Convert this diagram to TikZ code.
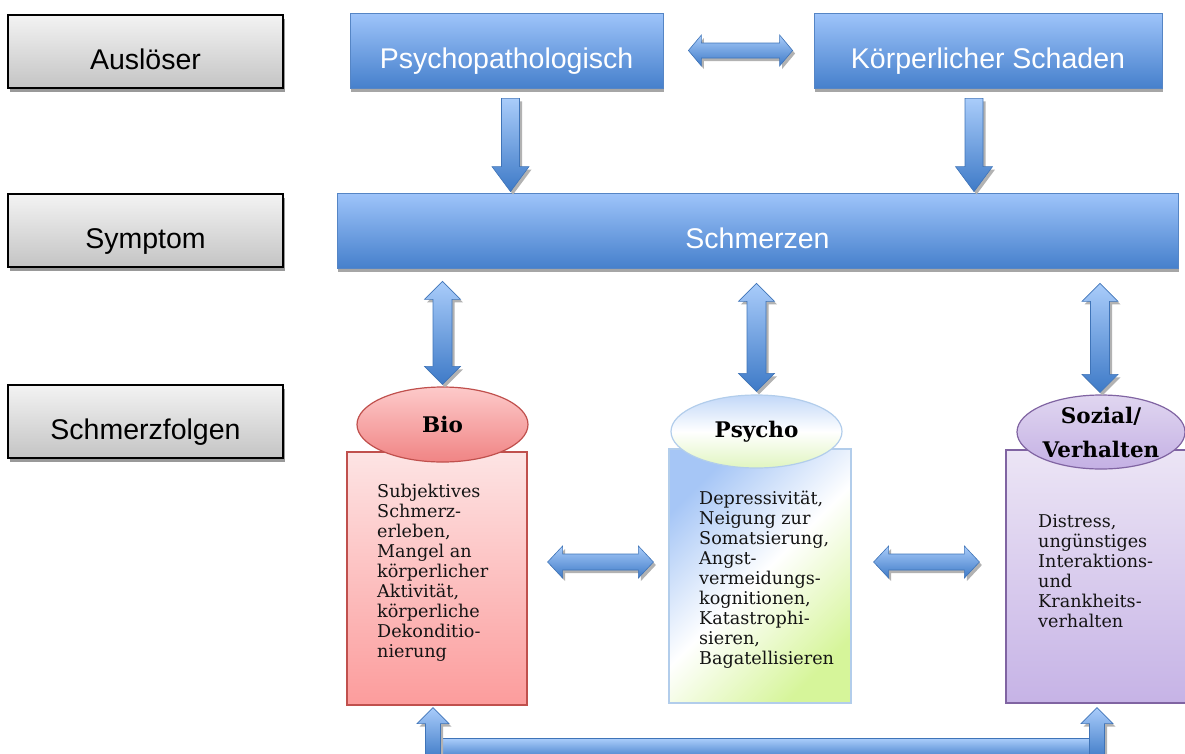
\documentclass[tikz,border=0pt]{standalone}
\usepackage{fontspec}
\setmainfont{Liberation Sans}
\newfontfamily\boxserif{DejaVu Serif}
\usetikzlibrary{calc,shapes.geometric,shadows}

\definecolor{greytop}{HTML}{F3F3F3}
\definecolor{greybot}{HTML}{C4C4C4}
\definecolor{bluetop}{HTML}{9EC4FA}
\definecolor{bluebot}{HTML}{4680CC}
\definecolor{blueedge}{HTML}{5585C5}
\definecolor{arrtop}{HTML}{A9CCFA}
\definecolor{arrbot}{HTML}{3E7AC7}
\definecolor{arredge}{HTML}{3F74B8}
\definecolor{biotop}{HTML}{FDE4E4}
\definecolor{biobot}{HTML}{FC9C9C}
\definecolor{bioedge}{HTML}{C0504D}
\definecolor{bioelltop}{HTML}{FDCACA}
\definecolor{bioellbot}{HTML}{F08484}
\definecolor{psyblue}{HTML}{A6C6F6}
\definecolor{psygreen}{HTML}{D6F59A}
\definecolor{psyedge}{HTML}{B2CDEB}
\definecolor{psyelltop}{HTML}{C2D8F8}
\definecolor{psyellbot}{HTML}{E0F5C0}
\definecolor{soztop}{HTML}{ECE5F5}
\definecolor{sozbot}{HTML}{C6B3E6}
\definecolor{sozelltop}{HTML}{E0D6F0}
\definecolor{sozellbot}{HTML}{C4B0E4}
\definecolor{sozedge}{HTML}{8064A2}
\definecolor{textdark}{HTML}{141414}

\tikzset{
  labelbox/.style={rectangle, minimum height=75pt, inner sep=0pt,
    text height=35pt, text depth=0pt, font=\fontsize{28.5}{32}\selectfont},
  greybox/.style={labelbox, minimum width=275pt, minimum height=73pt,
    draw=black, line width=1.5pt, top color=greytop, bottom color=greybot,
    text=black,
    drop shadow={shadow xshift=1.5pt, shadow yshift=-4pt, fill=black!40, opacity=1}},
  bluebox/.style={labelbox, draw=blueedge, line width=0.8pt,
    top color=bluetop, bottom color=bluebot, text=white,
    drop shadow={shadow xshift=1pt, shadow yshift=-4pt, fill=black!35, opacity=1}},
  catbox/.style={rectangle, inner sep=0pt, line width=1.2pt},
  catoval/.style={ellipse, inner sep=0pt, align=center, line width=1.2pt,
    font=\boxserif\bfseries\fontsize{21.5}{34}\selectfont, text=black},
  bodytext/.style={anchor=north west, inner sep=0pt, align=left,
    font=\boxserif\fontsize{17.6}{20}\selectfont, text=textdark},
  arrbody/.style={top color=arrtop, bottom color=arrbot, draw=arredge,
    line width=0.6pt, line join=miter},
  arrshadow/.style={fill=black!30, transform canvas={shift={(2.5pt,-3pt)}}},
}

% block arrows: shadow first, then the shaded body
\newcommand\blockpath[1]{\path[arrshadow] #1; \path[arrbody] #1;}
% horizontal double arrow: left tip, right tip, shaft half, head half, head length
\newcommand\blkH[5]{\blockpath{(#1) -- ($(#1)+(#5,-#4)$) -- ($(#1)+(#5,-#3)$)
  -- ($(#2)+(-#5,-#3)$) -- ($(#2)+(-#5,-#4)$) -- (#2) -- ($(#2)+(-#5,#4)$)
  -- ($(#2)+(-#5,#3)$) -- ($(#1)+(#5,#3)$) -- ($(#1)+(#5,#4)$) -- cycle}}
% vertical double arrow: top tip, bottom tip, shaft half, head half, head length
\newcommand\blkV[5]{\blockpath{(#1) -- ($(#1)+(#4,#5)$) -- ($(#1)+(#3,#5)$)
  -- ($(#2)+(#3,-#5)$) -- ($(#2)+(#4,-#5)$) -- (#2) -- ($(#2)+(-#4,-#5)$)
  -- ($(#2)+(-#3,-#5)$) -- ($(#1)+(-#3,#5)$) -- ($(#1)+(-#4,#5)$) -- cycle}}
% downward arrow: shaft top, tip, shaft half, head half, head length
\newcommand\blkDown[5]{\blockpath{($(#1)+(-#3,0)$) -- ($(#1)+(#3,0)$)
  -- ($(#2)+(#3,-#5)$) -- ($(#2)+(#4,-#5)$) -- (#2) -- ($(#2)+(-#4,-#5)$)
  -- ($(#2)+(-#3,-#5)$) -- cycle}}
% upward arrow: tip, shaft bottom, shaft half, head half, head length
\newcommand\blkUp[5]{\blockpath{(#1) -- ($(#1)+(#4,#5)$) -- ($(#1)+(#3,#5)$)
  -- ($(#2)+(#3,0)$) -- ($(#2)+(-#3,0)$) -- ($(#1)+(-#3,#5)$)
  -- ($(#1)+(-#4,#5)$) -- cycle}}

\begin{document}
\begin{tikzpicture}[x=1pt,y=-1pt]
\useasboundingbox (0,0) rectangle (1185,753);
\clip (0,0) rectangle (1185,753);

% level labels
\node[greybox] (ausl)   at (145.5,51.5)  {Auslöser};
\node[greybox] (sympt)  at (145.5,230.5) {Symptom};
\node[greybox] (folgen) at (145.5,421.5) {Schmerzfolgen};

% triggers and symptom
\node[bluebox, minimum width=313pt] (psy)  at (506.5,50.5)  {Psychopathologisch};
\node[bluebox, minimum width=348pt] (kor)  at (988,50.5)    {Körperlicher Schaden};
\node[bluebox, minimum width=841pt] (schm) at (757.5,230.5) {Schmerzen};

% consequence columns
\node[catbox, draw=bioedge, top color=biotop, bottom color=biobot,
  minimum width=180pt, minimum height=253pt] (biorect) at (437,578.5) {};
\node[catbox, draw=psyedge, left color=psyblue, right color=psygreen,
  middle color=white, shading angle=45,
  minimum width=182pt, minimum height=254pt] (psyrect) at (760,576) {};
\node[catbox, draw=sozedge, top color=soztop, bottom color=sozbot,
  minimum width=182pt, minimum height=253pt] (sozrect) at (1097,576.5) {};

\node[catoval, draw=bioedge, top color=bioelltop, bottom color=bioellbot,
  minimum width=171pt, minimum height=75pt] (bioell) at (442.5,424.5) {Bio};
\node[catoval, draw=psyedge, top color=psyelltop, bottom color=psyellbot,
  middle color=white, minimum width=171pt, minimum height=73pt] (psyell) at (756.5,431.5) {Psycho};
\node[catoval, draw=sozedge, top color=sozelltop, bottom color=sozellbot,
  minimum width=168pt, minimum height=74pt] (sozell) at (1101,432) {Sozial/\\Verhalten};

\node[bodytext] (biotext) at (377,483) {\rule{0pt}{14pt}Subjektives\\Schmerz-\\erleben,\\Mangel an\\körperlicher\\Aktivität,\\körperliche\\Dekonditio-\\nierung};
\node[bodytext] (psytext) at (699,490) {\rule{0pt}{14pt}Depressivität,\\Neigung zur\\Somatsierung,\\Angst-\\vermeidungs-\\kognitionen,\\Katastrophi-\\sieren,\\Bagatellisieren};
\node[bodytext] (soztext) at (1038,513) {\rule{0pt}{14pt}Distress,\\ungünstiges\\Interaktions-\\und\\Krankheits-\\verhalten};

% arrow end points
\coordinate (h1l) at ($(psy.east)+(25,0)$);
\coordinate (h1r) at ($(kor.west)+(-21,0)$);
\coordinate (d1t) at ($(psy.south)+(4,10)$);
\coordinate (d1b) at ($(d1t |- schm.north)+(0,-1)$);
\coordinate (d2t) at ($(kor.south)+(-14,10)$);
\coordinate (d2b) at ($(d2t |- schm.north)+(0,-1)$);
\coordinate (v1t) at ($(bioell.north |- schm.south)+(0,13)$);
\coordinate (v1b) at ($(bioell.north)+(0,-2)$);
\coordinate (v2t) at ($(psyell.north |- schm.south)+(0,15)$);
\coordinate (v2b) at ($(psyell.north)+(0,-3)$);
\coordinate (v3t) at ($(sozell.north |- schm.south)+(-1,15)$);
\coordinate (v3b) at ($(sozell.north)+(-1,-2)$);
\coordinate (m1l) at ($(biorect.east)+(20,-16.5)$);
\coordinate (m1r) at ($(psyrect.west |- m1l)+(-15,0)$);
\coordinate (m2l) at ($(psyrect.east |- m1l)+(22,0)$);
\coordinate (m2r) at ($(sozrect.west |- m1l)+(-26,0)$);
\coordinate (u1) at ($(biorect.south)+(-4,2)$);
\coordinate (u1b) at ($(u1)+(0,52)$);
\coordinate (u2) at ($(sozrect.south)+(0,4)$);
\coordinate (u2b) at ($(u2)+(0,52)$);

% arrows
\blkH{h1l}{h1r}{7.5}{15.5}{13}
\blkDown{d1t}{d1b}{9}{18.5}{25}
\blkDown{d2t}{d2b}{9}{18.5}{25}
\blkV{v1t}{v1b}{9.5}{18}{18}
\blkV{v2t}{v2b}{9.5}{18}{18}
\blkV{v3t}{v3b}{9.5}{18}{18}
\blkH{m1l}{m1r}{8}{16}{15}
\blkH{m2l}{m2r}{8}{16}{15}
\blockpath{($(u1)+(8,31)$) rectangle ($(u2)+(-7,52)$)}
\blkUp{u1}{u1b}{7.5}{16}{16}
\blkUp{u2}{u2b}{7.5}{16}{16}
\end{tikzpicture}
\end{document}
